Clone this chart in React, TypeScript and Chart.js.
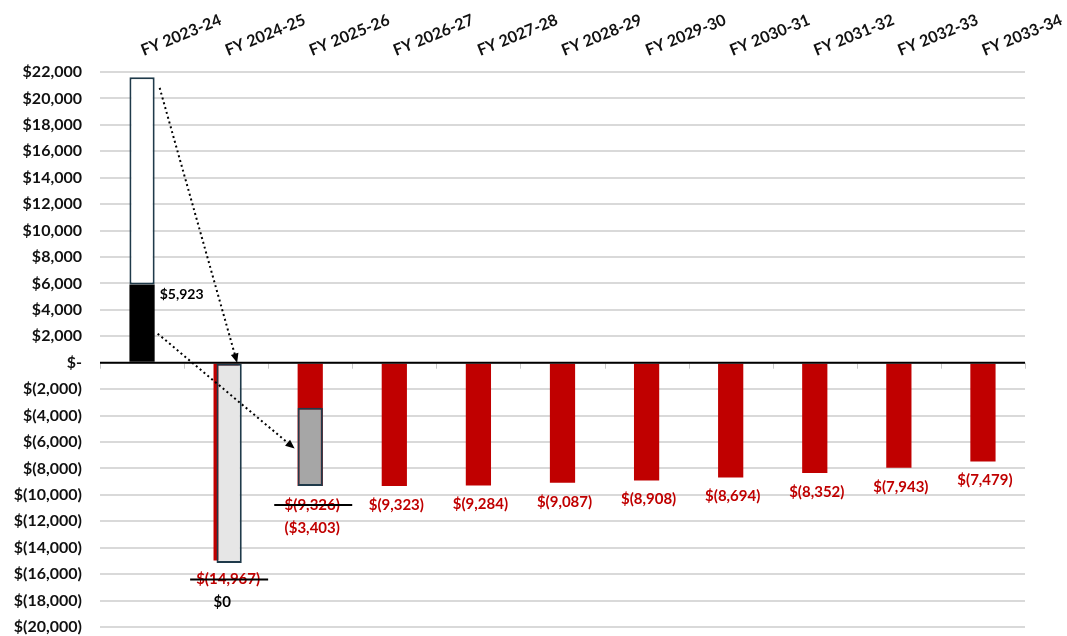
import React, { useEffect, useRef } from "react";
import { Chart, registerables } from "chart.js";

Chart.register(...registerables);

const categories = [
  "FY 2023-24", "FY 2024-25", "FY 2025-26", "FY 2026-27", "FY 2027-28", "FY 2028-29",
  "FY 2029-30", "FY 2030-31", "FY 2031-32", "FY 2032-33", "FY 2033-34",
];

// red series: net annual values (negative)
const netValues: (number | null)[] = [null, -14967, -9326, -9323, -9284, -9087, -8908, -8694, -8352, -7943, -7479];
// FY 2023-24 black portion and white box above it
const surplusValue = 5923;
const whiteBoxTop = 21600;
// FY 2024-25 light grey box
const lightBoxBottom = -15150;
// FY 2025-26 grey box range
const greyBoxStart = -3403;
const greyBoxEnd = -9326;
// labels that are struck through, and their replacements
const struckIndex = [1, 2];
const replacementLabels = ["$0", "($3,403)"];
const yMin = -20000;
const yMax = 22000;
const yStep = 2000;

const RED = "#c00000";
const EDGE = "#1f3a4a";
const FONT = "Lato";

function fmt(v: number): string {
  if (v === 0) return "$-";
  const s = Math.abs(v).toLocaleString("en-US");
  return v < 0 ? `$(${s})` : `$${s}`;
}

export default function App() {
  const ref = useRef<HTMLCanvasElement | null>(null);

  useEffect(() => {
    if (!ref.current) return;
    const n = categories.length;
    const only = (i: number, v: any) => categories.map((_, k) => (k === i ? v : null));

    const shiftPlugin = {
      id: "shift",
      beforeDatasetDraw(chart: any, args: any) {
        if (args.index === 1) {
          chart.ctx.save();
          chart.ctx.translate(3, 0);
        }
      },
      afterDatasetDraw(chart: any, args: any) {
        if (args.index === 1) chart.ctx.restore();
      },
    };

    const decorPlugin = {
      id: "decor",
      afterDatasetsDraw(chart: any) {
        const ctx = chart.ctx;
        const { left, right } = chart.chartArea;
        const ys = chart.scales.y;
        const xs = chart.scales.x;
        const y0 = ys.getPixelForValue(0);
        const cw = (right - left) / n;
        ctx.save();
        // boundary ticks
        ctx.strokeStyle = "#c8c8c8";
        ctx.lineWidth = 1;
        for (let k = 0; k <= n; k++) {
          const x = Math.round(left + k * cw) + 0.5;
          ctx.beginPath();
          ctx.moveTo(x, y0);
          ctx.lineTo(x, y0 + 6);
          ctx.stroke();
        }
        // zero line
        ctx.strokeStyle = "#000";
        ctx.lineWidth = 2;
        ctx.beginPath();
        ctx.moveTo(left, y0);
        ctx.lineTo(right, y0);
        ctx.stroke();

        // labels for red series
        const redMeta = chart.getDatasetMeta(4);
        ctx.textAlign = "center";
        ctx.textBaseline = "middle";
        netValues.forEach((v, i) => {
          if (v == null) return;
          const el = redMeta.data[i];
          const x = el.x + 2;
          const y = ys.getPixelForValue(v) + 19;
          ctx.font = `bold 15px ${FONT}`;
          ctx.fillStyle = RED;
          const txt = fmt(v);
          ctx.fillText(txt, x, y);
          const si = struckIndex.indexOf(i);
          if (si >= 0) {
            ctx.strokeStyle = "#000";
            ctx.lineWidth = 2;
            ctx.beginPath();
            ctx.moveTo(x - 38, y);
            ctx.lineTo(x + 40, y);
            ctx.stroke();
            const rep = replacementLabels[si];
            ctx.fillStyle = rep.startsWith("(") ? RED : "#000";
            ctx.fillText(rep, x - (si === 0 ? 6 : 0), y + 23);
          }
        });
        // surplus label
        const bMeta = chart.getDatasetMeta(3);
        const bel = bMeta.data[0];
        ctx.textAlign = "left";
        ctx.fillStyle = "#000";
        ctx.font = `bold 14px ${FONT}`;
        ctx.fillText(fmt(surplusValue), bel.x + bel.width / 2 + 5, ys.getPixelForValue(surplusValue) + 10);

        // arrows
        const drawArrow = (x1: number, y1: number, x2: number, y2: number) => {
          ctx.strokeStyle = "#000";
          ctx.fillStyle = "#000";
          ctx.lineWidth = 2;
          ctx.setLineDash([2, 3]);
          const ang = Math.atan2(y2 - y1, x2 - x1);
          const hl = 10;
          const ex = x2 - Math.cos(ang) * hl * 0.8;
          const ey = y2 - Math.sin(ang) * hl * 0.8;
          ctx.beginPath();
          ctx.moveTo(x1, y1);
          ctx.lineTo(ex, ey);
          ctx.stroke();
          ctx.setLineDash([]);
          ctx.beginPath();
          ctx.moveTo(x2, y2);
          ctx.lineTo(x2 - Math.cos(ang - 0.4) * hl, y2 - Math.sin(ang - 0.4) * hl);
          ctx.lineTo(x2 - Math.cos(ang + 0.4) * hl, y2 - Math.sin(ang + 0.4) * hl);
          ctx.closePath();
          ctx.fill();
        };
        const halfW = bel.width / 2;
        drawArrow(xs.getPixelForValue(0) + halfW + 5, ys.getPixelForValue(20800),
          xs.getPixelForValue(1) + 11, ys.getPixelForValue(0));
        drawArrow(xs.getPixelForValue(0) + halfW + 3, ys.getPixelForValue(2200),
          xs.getPixelForValue(2) - halfW - 3, ys.getPixelForValue(-6500));
        ctx.restore();
      },
    };

    const common = { grouped: false, barPercentage: 0.3, categoryPercentage: 1, borderSkipped: false };

    const chart = new Chart(ref.current, {
      type: "bar",
      data: {
        labels: categories,
        datasets: [
          { ...common, label: "white", data: only(0, [surplusValue, whiteBoxTop]), backgroundColor: "#ffffff", borderColor: EDGE, borderWidth: 2 },
          { ...common, label: "light", data: only(1, [0, lightBoxBottom]), backgroundColor: "#e6e6e6", borderColor: EDGE, borderWidth: 2 },
          { ...common, label: "grey", data: only(2, [greyBoxStart, greyBoxEnd]), backgroundColor: "#a6a6a6", borderColor: EDGE, borderWidth: 2 },
          { ...common, label: "black", data: only(0, [0, surplusValue]), backgroundColor: "#000000", borderWidth: 0 },
          { ...common, label: "net", data: netValues.map((v) => (v == null ? null : [0, v])), backgroundColor: RED, borderWidth: 0 },
        ] as any,
      },
      options: {
        animation: false,
        responsive: true,
        maintainAspectRatio: false,
        layout: { padding: { left: 8, right: 42, top: 0, bottom: 9 } },
        plugins: { legend: { display: false }, tooltip: { enabled: false } },
        scales: {
          x: {
            position: "top",
            grid: { display: false, drawTicks: false },
            border: { display: false },
            afterFit: (s: any) => {
              s.paddingLeft = 0;
              s.paddingRight = 0;
              s.height = 72;
            },
            ticks: {
              minRotation: 22,
              maxRotation: 22,
              padding: 12,
              labelOffset: 7,
              color: "#111",
              font: { family: FONT, weight: "bold", size: 16 },
            },
          },
          y: {
            min: yMin,
            max: yMax,
            border: { display: false },
            grid: { color: "#d9d9d9", lineWidth: 2, drawTicks: false },
            afterFit: (s: any) => {
              s.paddingTop = 0;
              s.paddingBottom = 0;
              s.width = 92;
            },
            ticks: {
              stepSize: yStep,
              padding: 18,
              color: "#111",
              font: { family: FONT, weight: "bold", size: 16 },
              callback: (v: any) => fmt(Number(v)),
            },
          },
        },
      },
      plugins: [shiftPlugin, decorPlugin],
    });
    return () => chart.destroy();
  }, []);

  return (
    <div style={{ position: "fixed", left: 0, top: 0, width: 1067, height: 636, background: "#fff" }}>
      <canvas ref={ref} />
    </div>
  );
}
